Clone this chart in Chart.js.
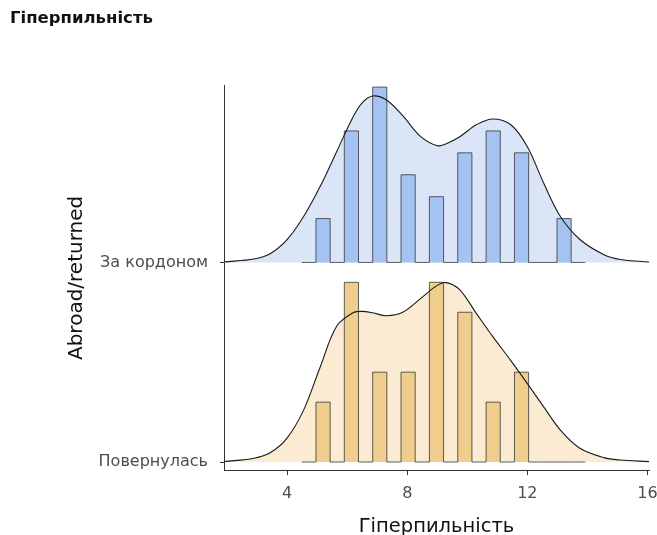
<!DOCTYPE html>
<html>
<head>
<meta charset="utf-8">
<script src="https://cdn.jsdelivr.net/npm/chart.js@4.4.0/dist/chart.umd.min.js"></script>
<style>
  html, body { margin: 0; padding: 0; background: #fff; }
  #wrap { width: 657px; height: 535px; }
</style>
</head>
<body>
<div id="wrap"><canvas id="ridgeChart" width="657" height="535"></canvas></div>
<script>
// groups on the y axis: index 0 -> y = 1, index 1 -> y = 2
const groupLabels = ['Повернулась', 'За кордоном'];

// histogram counts per score
const scoreValues = [5, 6, 7, 8, 9, 10, 11, 12, 13];
const abroadCounts = [2, 6, 8, 4, 3, 5, 6, 5, 2];
const returnedCounts = [2, 6, 3, 3, 6, 5, 2, 3, 0];
const binStart = 4.49;
const binWidth = 0.472;
const binCount = 20;
const histScale = 2.125;

// density curves (height above each ridge baseline)
const densityX = [1.9, 2.9, 3.45, 4.0, 4.55, 5.1, 5.65, 6.2, 6.5, 6.85, 7.3, 7.85, 8.45,
                  9.0, 9.3, 9.75, 10.3, 10.85, 11.45, 12.0, 12.55, 13.1, 13.75, 14.55, 15.1, 16.05];
const abroadDensity = [0.003, 0.017, 0.045, 0.114, 0.23, 0.38, 0.555, 0.73, 0.80, 0.834, 0.815, 0.735, 0.63,
                       0.585, 0.595, 0.63, 0.69, 0.719, 0.69, 0.58, 0.395, 0.23, 0.115, 0.039, 0.015, 0.002];
const returnedDensity = [0.002, 0.019, 0.048, 0.12, 0.26, 0.475, 0.68, 0.748, 0.755, 0.748, 0.733, 0.75, 0.82,
                         0.885, 0.899, 0.863, 0.745, 0.628, 0.508, 0.393, 0.275, 0.16, 0.069, 0.022, 0.01, 0.002];

const xTicks = [4, 8, 12, 16];

Chart.defaults.font.family = "'DejaVu Sans', sans-serif";

function histPoints(counts, base) {
  const n = counts.reduce((a, b) => a + b, 0);
  const bins = new Array(binCount).fill(0);
  scoreValues.forEach((v, i) => {
    bins[Math.floor((v - binStart) / binWidth)] += counts[i];
  });
  const pts = bins.map((c, i) => ({ x: binStart + i * binWidth, y: base + c / (n * binWidth) * histScale }));
  pts.push({ x: binStart + binCount * binWidth, y: base });
  return pts;
}

function densityPoints(dens, base) {
  return densityX.map((x, i) => ({ x: x, y: base + dens[i] }));
}

const blueFill = '#dae5f7', blueBar = '#a5c3f2';
const orangeFill = '#faebd2', orangeBar = '#efcd8c';
const barEdge = 'rgba(45,45,45,0.75)';

function densityFill(dens, base, color) {
  return { data: densityPoints(dens, base), fill: { value: base }, backgroundColor: color,
           borderColor: 'rgba(0,0,0,0)', borderWidth: 1, tension: 0.35, order: 3 };
}
function densityLine(dens, base) {
  return { data: densityPoints(dens, base), fill: false, borderColor: '#1a1a1a', borderWidth: 1.1,
           tension: 0.35, order: 1 };
}
function histogram(counts, base, color) {
  return { data: histPoints(counts, base), stepped: 'before', fill: { value: base }, backgroundColor: color,
           borderColor: barEdge, borderWidth: 1, order: 2 };
}

new Chart(document.getElementById('ridgeChart'), {
  type: 'line',
  data: {
    datasets: [
      densityFill(abroadDensity, 2, blueFill),
      histogram(abroadCounts, 2, blueBar),
      densityLine(abroadDensity, 2),
      densityFill(returnedDensity, 1, orangeFill),
      histogram(returnedCounts, 1, orangeBar),
      densityLine(returnedDensity, 1),
    ],
  },
  options: {
    responsive: false,
    animation: false,
    elements: { point: { radius: 0 } },
    layout: { padding: { left: 10, right: 8, top: 0, bottom: 0 }, autoPadding: false },
    plugins: {
      legend: { display: false },
      tooltip: { enabled: false },
      title: {
        display: true,
        text: 'Гіперпильність',
        align: 'start',
        color: '#111',
        font: { size: 16.5, weight: 'bold' },
        padding: { top: 9, bottom: 57 },
      },
    },
    scales: {
      x: {
        type: 'linear',
        min: 1.9,
        max: 16.05,
        afterBuildTicks: s => { s.ticks = xTicks.map(v => ({ value: v })); },
        afterFit: s => { s.height = 65; s.paddingLeft = 0; s.paddingRight = 0; },
        grid: { drawOnChartArea: false, drawTicks: true, tickLength: 5, color: '#333' },
        border: { display: true, color: '#333', width: 1 },
        ticks: { color: '#4d4d4d', font: { size: 16 }, padding: 9, maxRotation: 0 },
        title: { display: true, text: 'Гіперпильність', color: '#111', font: { size: 19.5, lineHeight: 0.85 },
                 padding: { top: 0, bottom: 0 } },
      },
      y: {
        type: 'linear',
        min: 0.96,
        max: 2.885,
        afterBuildTicks: s => { s.ticks = [{ value: 1 }, { value: 2 }]; },
        afterFit: s => { s.width = 214; s.paddingTop = 0; s.paddingBottom = 0; },
        grid: { drawOnChartArea: false, drawTicks: true, tickLength: 4, color: '#333' },
        border: { display: true, color: '#333', width: 1 },
        ticks: { color: '#4d4d4d', font: { size: 16 }, padding: 12,
                 callback: v => groupLabels[Math.round(v) - 1] },
        title: { display: true, text: 'Abroad/returned', color: '#111', font: { size: 20, lineHeight: 1.2 },
                 padding: { top: 55, bottom: 0 } },
      },
    },
  },
});
</script>
</body>
</html>
